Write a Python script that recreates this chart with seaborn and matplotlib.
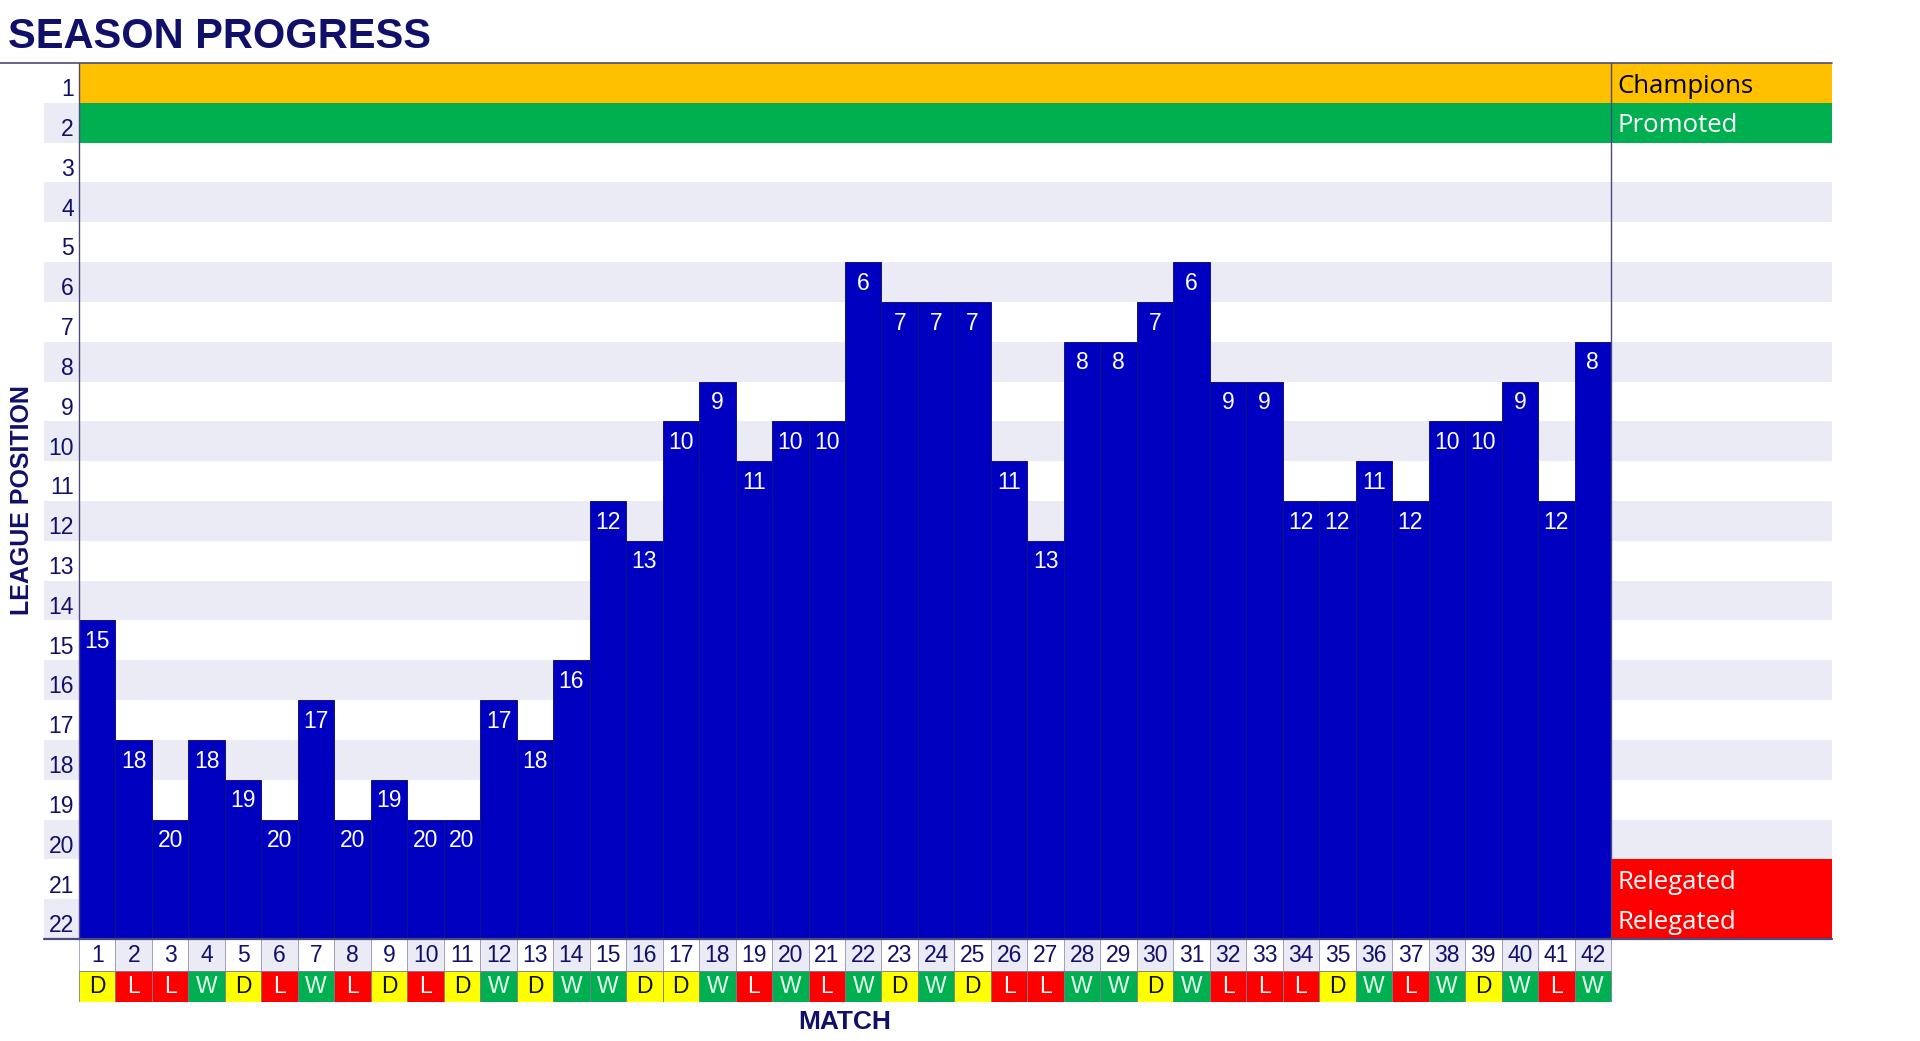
import matplotlib
matplotlib.use("Agg")
import matplotlib.pyplot as plt
from matplotlib.patches import Rectangle
import seaborn as sns
import pandas as pd

# ---- data ----
matches = list(range(1, 43))
positions = [15, 18, 20, 18, 19, 20, 17, 20, 19, 20, 20, 17, 18, 16, 12, 13, 10, 9, 11, 10, 10,
             6, 7, 7, 7, 11, 13, 8, 8, 7, 6, 9, 9, 12, 12, 11, 12, 10, 10, 9, 12, 8]
results = ["D", "L", "L", "W", "D", "L", "W", "L", "D", "L", "D", "W", "D", "W", "W", "D", "D",
           "W", "L", "W", "L", "W", "D", "W", "D", "L", "L", "W", "W", "D", "W", "L", "L", "L",
           "D", "W", "L", "W", "D", "W", "L", "W"]
league_rows = list(range(1, 23))
zone_labels = {1: "Champions", 2: "Promoted", 21: "Relegated", 22: "Relegated"}

# ---- styles ----
NAVY = "#10106A"
BAR = "#0000C0"
BAND = "#EBEBF5"
LINE = "#4A4A7E"
zone_colors = {1: "#FFC000", 2: "#00B050", 21: "#FF0000", 22: "#FF0000"}
zone_text = {1: "black", 2: "white", 21: "white", 22: "white"}
res_colors = {"D": "#FFFF00", "L": "#FF0000", "W": "#00B050"}
res_text = {"D": "#111111", "L": "white", "W": "#E8FFF0"}

sns.set_theme(style="white")
plt.rcParams["font.family"] = ["Liberation Sans", "DejaVu Sans"]

W, H = 1920, 1041
fig = plt.figure(figsize=(W / 100, H / 100), dpi=100)
fig.patch.set_facecolor("white")

left_px, right_px, top_px, bot_px = 44, 1832, 63, 1002
ax = fig.add_axes([left_px / W, 1 - bot_px / H, (right_px - left_px) / W, (bot_px - top_px) / H])

n = len(matches)
unit = (1611 - 79) / n
xl = -0.5 - (79 - left_px) / unit
xr = n - 0.5 + (right_px - 1611) / unit
row_h_px = (939 - top_px) / 22.0
y_bottom = -(bot_px - 939) / row_h_px
y_mid = -(971 - 939) / row_h_px

# heights (row 22 bottom = 0, row 1 top = 22)
df = pd.DataFrame({"match": matches, "pos": positions, "res": results})
df["height"] = 23 - df["pos"]

NUM_FS = 16.5

# bands
for r in league_rows:
    y0 = 22 - r
    if r % 2 == 0:
        ax.add_patch(Rectangle((xl, y0), xr - xl, 1, facecolor=BAND, edgecolor="none", zorder=0))
    if r in (1, 2):
        ax.add_patch(Rectangle((-0.5, y0), xr + 0.5, 1, facecolor=zone_colors[r], edgecolor="none", zorder=0.5))
    elif r in zone_colors:
        ax.add_patch(Rectangle((n - 0.5, y0), xr - (n - 0.5), 1, facecolor=zone_colors[r], edgecolor="none", zorder=0.5))
    ax.text(-0.5 - 5 / unit, y0 + 0.5 - 0.17, str(r), ha="right", va="center",
            fontsize=NUM_FS, color=NAVY, zorder=3)
    if r in zone_labels:
        ax.text(n - 0.5 + 6 / unit, y0 + 0.5 - 0.08, zone_labels[r], ha="left", va="center",
                fontsize=18.5, color=zone_text[r], family=["Open Sans", "DejaVu Sans"], zorder=3)

sns.barplot(data=df, x="match", y="height", order=matches, color=BAR, width=1.0,
            edgecolor="#14147A", linewidth=0.7, saturation=1, ax=ax, zorder=2)

for i, (p, h) in enumerate(zip(df["pos"], df["height"])):
    ax.text(i, h - 0.5 - 0.03, str(p), ha="center", va="center", fontsize=NUM_FS, color="white", zorder=4)

# bottom table
for i, (m, r) in enumerate(zip(matches, results)):
    ax.add_patch(Rectangle((i - 0.5, y_mid), 1, -y_mid,
                           facecolor=BAND if m % 2 == 0 else "white",
                           edgecolor="#9A9AB8", linewidth=0.6, zorder=1))
    ax.text(i, y_mid / 2, str(m), ha="center", va="center", fontsize=NUM_FS, color=NAVY, zorder=3)
    ax.add_patch(Rectangle((i - 0.5, y_bottom), 1, y_mid - y_bottom,
                           facecolor=res_colors[r], edgecolor="#7A7A90", linewidth=0.6, zorder=1))
    ax.text(i, (y_mid + y_bottom) / 2, r, ha="center", va="center", fontsize=NUM_FS,
            color=res_text[r], zorder=3)

# lines
ax.plot([xl - left_px / unit, xr], [22, 22], color=LINE, lw=1.2, clip_on=False, zorder=5)
ax.plot([xl, xr], [0, 0], color=LINE, lw=1.6, clip_on=False, zorder=5)
ax.plot([-0.5, -0.5], [0, 22], color=LINE, lw=1.0, zorder=5)
ax.plot([n - 0.5, n - 0.5], [0, 22], color=LINE, lw=1.0, zorder=5)

ax.set_xlim(xl, xr)
ax.set_ylim(y_bottom, 22)
ax.set_axis_off()

fig.text(8 / W, 1 - 48 / H, "SEASON PROGRESS", ha="left", va="baseline",
         fontsize=30, fontweight="bold", color=NAVY)
fig.text(22 / W, 1 - 500 / H, "LEAGUE POSITION", ha="center", va="center", rotation=90,
         fontsize=18, fontweight="bold", color=NAVY)
fig.text(845 / W, 1 - 1022 / H, "MATCH", ha="center", va="center",
         fontsize=19, fontweight="bold", color=NAVY)

fig.savefig("out.png", dpi=100)
